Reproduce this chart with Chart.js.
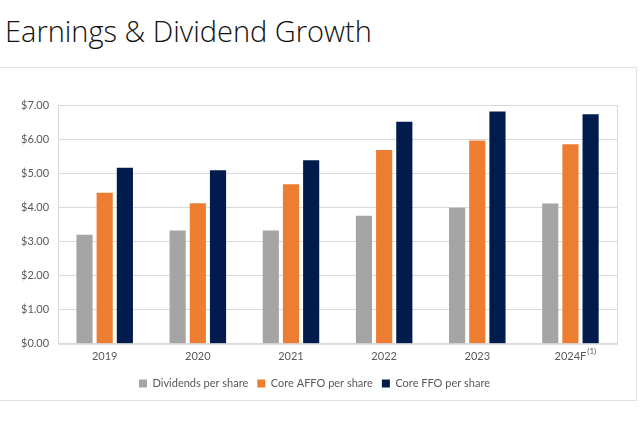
<!DOCTYPE html>
<html>
<head>
<meta charset="utf-8">
<script src="https://cdn.jsdelivr.net/npm/chart.js@4.4.1/dist/chart.umd.min.js"></script>
<style>
  body { margin: 0; background: #fff; width: 640px; height: 425px; overflow: hidden; position: relative; }
  #title { position: absolute; left: 5px; top: 11px; font-family: "Open Sans", "Noto Sans", sans-serif; font-weight: 300; font-size: 29px; color: #111; white-space: nowrap; }
  #box { position: absolute; left: -1px; top: 67px; width: 636px; height: 332px; border: 1px solid #e3e3e3; }
  #box canvas { display: block; }
</style>
</head>
<body>
<div id="title">Earnings &amp; Dividend Growth</div>
<div id="box"><canvas id="chart" width="636" height="332"></canvas></div>
<script>
// values
const years = ['2019', '2020', '2021', '2022', '2023', '2024F'];
const dividends = [3.20, 3.32, 3.32, 3.75, 3.99, 4.11];
const coreAffo = [4.43, 4.12, 4.68, 5.68, 5.96, 5.85];
const coreFfo = [5.16, 5.09, 5.38, 6.51, 6.81, 6.73];
const yTicks = [0, 1, 2, 3, 4, 5, 6, 7];

const labelFont = { family: 'Lato, "Open Sans", sans-serif', size: 11 };
const textColor = '#595959';

// plot area frame + footnote mark next to the forecast year
const framePlugin = {
  id: 'frame',
  afterDraw(chart) {
    const { ctx, chartArea, scales } = chart;
    ctx.save();
    ctx.strokeStyle = '#d9d9d9';
    ctx.lineWidth = 1;
    ctx.strokeRect(chartArea.left + 0.5, chartArea.top + 0.5, chartArea.width, chartArea.height);
    const i = years.length - 1;
    const x = scales.x.getPixelForValue(i);
    ctx.font = '11px ' + labelFont.family;
    const w = ctx.measureText(years[i]).width;
    ctx.font = '8px ' + labelFont.family;
    ctx.fillStyle = textColor;
    ctx.textBaseline = 'alphabetic';
    ctx.fillText('(1)', x + w / 2 + 1, chartArea.bottom + 10);
    ctx.restore();
  }
};

new Chart(document.getElementById('chart'), {
  type: 'bar',
  data: {
    labels: years,
    datasets: [
      { label: 'Dividends per share', data: dividends, backgroundColor: '#a5a5a5' },
      { label: 'Core AFFO per share', data: coreAffo, backgroundColor: '#ed7d31' },
      { label: 'Core FFO per share', data: coreFfo, backgroundColor: '#011c4c' }
    ]
  },
  options: {
    responsive: false,
    animation: false,
    layout: { padding: { left: 12, right: 19, top: 37, bottom: 1 } },
    datasets: {
      bar: { categoryPercentage: 0.65, barPercentage: 0.8, borderWidth: 0 }
    },
    scales: {
      y: {
        min: 0,
        max: 7,
        afterBuildTicks: (axis) => { axis.ticks = yTicks.map(v => ({ value: v })); },
        ticks: {
          color: textColor,
          font: labelFont,
          padding: 9,
          callback: (v) => '$' + Number(v).toFixed(2)
        },
        grid: { color: '#d9d9d9', drawTicks: false },
        border: { color: '#d9d9d9' }
      },
      x: {
        ticks: { color: textColor, font: labelFont, padding: 6 },
        grid: { display: false, drawTicks: false },
        border: { color: '#d9d9d9' }
      }
    },
    plugins: {
      legend: {
        position: 'bottom',
        labels: {
          color: textColor,
          font: labelFont,
          boxWidth: 8,
          boxHeight: 8,
          padding: 9
        }
      },
      tooltip: { enabled: false }
    }
  },
  plugins: [framePlugin]
});
</script>
</body>
</html>
